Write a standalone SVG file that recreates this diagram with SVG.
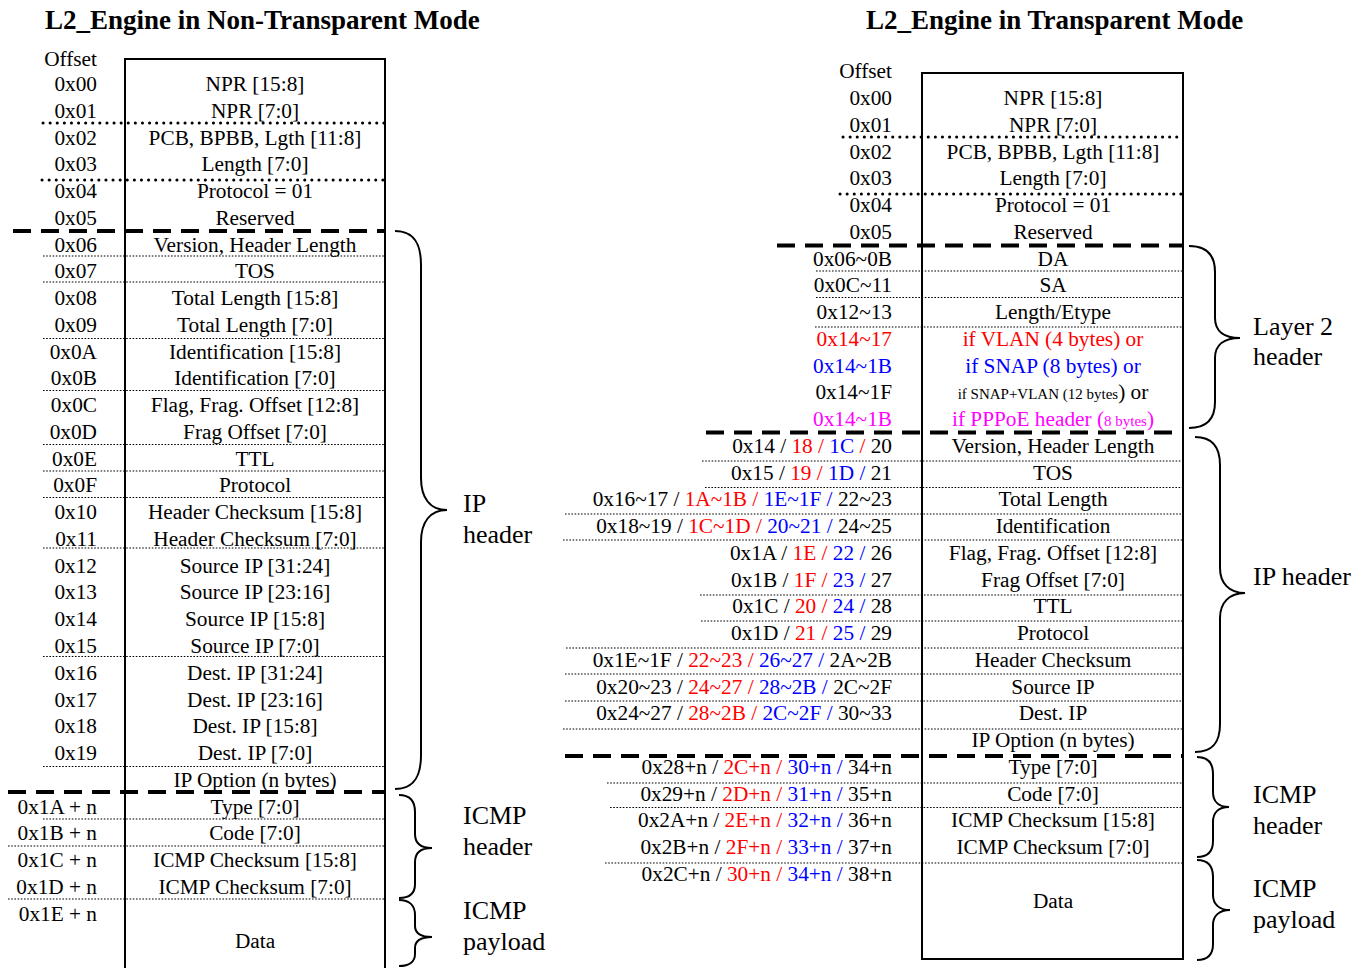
<svg xmlns="http://www.w3.org/2000/svg" width="1368" height="968" viewBox="0 0 1368 968">
<style>
text{font-family:"Liberation Serif","Times New Roman",serif;fill:#000}
.t{font-size:27px;font-weight:bold}
.o{font-size:21.3px;text-anchor:end}
.c{font-size:21.3px;text-anchor:middle}
.lb{font-size:26px}
.sm{font-size:15px}
.r{fill:#FF0000}
.b{fill:#0000FF}
.m{fill:#FF00FF}
.box{fill:none;stroke:#000;stroke-width:2}
.hd{stroke:#000;stroke-width:3;stroke-linecap:round;stroke-dasharray:0.1 7;fill:none}
.td{stroke:#000;stroke-width:1.2;stroke-dasharray:1.6 1.6;fill:none}
.da{stroke:#000;stroke-width:4;stroke-dasharray:18 10;fill:none}
.br{fill:none;stroke:#000;stroke-width:2}
</style>

<g id="left-panel">
<text class="t" x="45" y="29">L2_Engine in Non-Transparent Mode</text>
<path id="left-box" class="box" d="M125,970 V59 H385 V970"/>
<text class="o" x="97" y="66">Offset</text>
<g id="L00"><text class="o" x="97" y="91">0x00</text><text class="c" x="255" y="91">NPR [15:8]</text></g>
<g id="L01"><text class="o" x="97" y="117.8">0x01</text><text class="c" x="255" y="117.8">NPR [7:0]</text></g>
<g id="L02"><text class="o" x="97" y="144.5">0x02</text><text class="c" x="255" y="144.5">PCB, BPBB, Lgth [11:8]</text></g>
<g id="L03"><text class="o" x="97" y="171.3">0x03</text><text class="c" x="255" y="171.3">Length [7:0]</text></g>
<g id="L04"><text class="o" x="97" y="198">0x04</text><text class="c" x="255" y="198">Protocol = 01</text></g>
<g id="L05"><text class="o" x="97" y="224.8">0x05</text><text class="c" x="255" y="224.8">Reserved</text></g>
<g id="L06"><text class="o" x="97" y="251.6">0x06</text><text class="c" x="255" y="251.6">Version, Header Length</text></g>
<g id="L07"><text class="o" x="97" y="278.3">0x07</text><text class="c" x="255" y="278.3">TOS</text></g>
<g id="L08"><text class="o" x="97" y="305.1">0x08</text><text class="c" x="255" y="305.1">Total Length [15:8]</text></g>
<g id="L09"><text class="o" x="97" y="331.8">0x09</text><text class="c" x="255" y="331.8">Total Length [7:0]</text></g>
<g id="L0A"><text class="o" x="97" y="358.6">0x0A</text><text class="c" x="255" y="358.6">Identification [15:8]</text></g>
<g id="L0B"><text class="o" x="97" y="385.4">0x0B</text><text class="c" x="255" y="385.4">Identification [7:0]</text></g>
<g id="L0C"><text class="o" x="97" y="412.1">0x0C</text><text class="c" x="255" y="412.1">Flag, Frag. Offset [12:8]</text></g>
<g id="L0D"><text class="o" x="97" y="438.9">0x0D</text><text class="c" x="255" y="438.9">Frag Offset [7:0]</text></g>
<g id="L0E"><text class="o" x="97" y="465.6">0x0E</text><text class="c" x="255" y="465.6">TTL</text></g>
<g id="L0F"><text class="o" x="97" y="492.4">0x0F</text><text class="c" x="255" y="492.4">Protocol</text></g>
<g id="L10"><text class="o" x="97" y="519.2">0x10</text><text class="c" x="255" y="519.2">Header Checksum [15:8]</text></g>
<g id="L11"><text class="o" x="97" y="545.9">0x11</text><text class="c" x="255" y="545.9">Header Checksum [7:0]</text></g>
<g id="L12"><text class="o" x="97" y="572.7">0x12</text><text class="c" x="255" y="572.7">Source IP [31:24]</text></g>
<g id="L13"><text class="o" x="97" y="599.4">0x13</text><text class="c" x="255" y="599.4">Source IP [23:16]</text></g>
<g id="L14"><text class="o" x="97" y="626.2">0x14</text><text class="c" x="255" y="626.2">Source IP [15:8]</text></g>
<g id="L15"><text class="o" x="97" y="653">0x15</text><text class="c" x="255" y="653">Source IP [7:0]</text></g>
<g id="L16"><text class="o" x="97" y="679.7">0x16</text><text class="c" x="255" y="679.7">Dest. IP [31:24]</text></g>
<g id="L17"><text class="o" x="97" y="706.5">0x17</text><text class="c" x="255" y="706.5">Dest. IP [23:16]</text></g>
<g id="L18"><text class="o" x="97" y="733.2">0x18</text><text class="c" x="255" y="733.2">Dest. IP [15:8]</text></g>
<g id="L19"><text class="o" x="97" y="760">0x19</text><text class="c" x="255" y="760">Dest. IP [7:0]</text></g>
<g id="LIPO"><text class="c" x="255" y="786.8">IP Option (n bytes)</text></g>
<g id="L1A"><text class="o" x="97" y="813.5">0x1A + n</text><text class="c" x="255" y="813.5">Type [7:0]</text></g>
<g id="L1B"><text class="o" x="97" y="840.3">0x1B + n</text><text class="c" x="255" y="840.3">Code [7:0]</text></g>
<g id="L1C"><text class="o" x="97" y="867">0x1C + n</text><text class="c" x="255" y="867">ICMP Checksum [15:8]</text></g>
<g id="L1D"><text class="o" x="97" y="893.8">0x1D + n</text><text class="c" x="255" y="893.8">ICMP Checksum [7:0]</text></g>
<g id="L1E"><text class="o" x="97" y="920.6">0x1E + n</text><text class="c" x="255" y="948">Data</text></g>
<g id="L-labels">
<text class="lb" x="463" y="512">IP</text><text class="lb" x="463" y="543">header</text>
<text class="lb" x="463" y="824">ICMP</text><text class="lb" x="463" y="855">header</text>
<text class="lb" x="463" y="919">ICMP</text><text class="lb" x="463" y="950">payload</text>
</g>
</g>

<g id="right-panel">
<text class="t" x="866" y="29">L2_Engine in Transparent Mode</text>
<rect id="right-box" class="box" x="922" y="73" width="261" height="886"/>
<text class="o" x="892" y="78">Offset</text>
<g id="R00"><text class="o" x="892" y="105">0x00</text><text class="c" x="1053" y="105">NPR [15:8]</text></g>
<g id="R01"><text class="o" x="892" y="131.8">0x01</text><text class="c" x="1053" y="131.8">NPR [7:0]</text></g>
<g id="R02"><text class="o" x="892" y="158.5">0x02</text><text class="c" x="1053" y="158.5">PCB, BPBB, Lgth [11:8]</text></g>
<g id="R03"><text class="o" x="892" y="185.3">0x03</text><text class="c" x="1053" y="185.3">Length [7:0]</text></g>
<g id="R04"><text class="o" x="892" y="212">0x04</text><text class="c" x="1053" y="212">Protocol = 01</text></g>
<g id="R05"><text class="o" x="892" y="238.8">0x05</text><text class="c" x="1053" y="238.8">Reserved</text></g>
<g id="R06"><text class="o" x="892" y="265.5">0x06~0B</text><text class="c" x="1053" y="265.5">DA</text></g>
<g id="R07"><text class="o" x="892" y="292.3">0x0C~11</text><text class="c" x="1053" y="292.3">SA</text></g>
<g id="R08"><text class="o" x="892" y="319">0x12~13</text><text class="c" x="1053" y="319">Length/Etype</text></g>
<g id="R09"><text class="o r" x="892" y="345.8">0x14~17</text><text class="c r" x="1053" y="345.8">if VLAN (4 bytes) or</text></g>
<g id="R10"><text class="o b" x="892" y="372.5">0x14~1B</text><text class="c b" x="1053" y="372.5">if SNAP (8 bytes) or</text></g>
<g id="R11"><text class="o" x="892" y="399.3">0x14~1F</text><text class="c" x="1053" y="399.3"><tspan class="sm">if SNAP+VLAN (12 bytes</tspan>) or</text></g>
<g id="R12"><text class="o m" x="892" y="426">0x14~1B</text><text class="c m" x="1053" y="426">if PPPoE header (<tspan class="sm">8 bytes</tspan>)</text></g>
<g id="R13"><text class="o" x="892" y="452.8">0x14 / <tspan class="r">18 / </tspan><tspan class="b">1C </tspan><tspan class="r">/ </tspan>20</text><text class="c" x="1053" y="452.8">Version, Header Length</text></g>
<g id="R14"><text class="o" x="892" y="479.5">0x15 / <tspan class="r">19 / </tspan><tspan class="b">1D / </tspan>21</text><text class="c" x="1053" y="479.5">TOS</text></g>
<g id="R15"><text class="o" x="892" y="506.3">0x16~17 / <tspan class="r">1A~1B / </tspan><tspan class="b">1E~1F / </tspan>22~23</text><text class="c" x="1053" y="506.3">Total Length</text></g>
<g id="R16"><text class="o" x="892" y="533">0x18~19 / <tspan class="r">1C~1D / </tspan><tspan class="b">20~21 / </tspan>24~25</text><text class="c" x="1053" y="533">Identification</text></g>
<g id="R17"><text class="o" x="892" y="559.8">0x1A / <tspan class="r">1E / </tspan><tspan class="b">22 / </tspan>26</text><text class="c" x="1053" y="559.8">Flag, Frag. Offset [12:8]</text></g>
<g id="R18"><text class="o" x="892" y="586.5">0x1B / <tspan class="r">1F / </tspan><tspan class="b">23 / </tspan>27</text><text class="c" x="1053" y="586.5">Frag Offset [7:0]</text></g>
<g id="R19"><text class="o" x="892" y="613.3">0x1C / <tspan class="r">20 / </tspan><tspan class="b">24 / </tspan>28</text><text class="c" x="1053" y="613.3">TTL</text></g>
<g id="R20"><text class="o" x="892" y="640">0x1D / <tspan class="r">21 / </tspan><tspan class="b">25 / </tspan>29</text><text class="c" x="1053" y="640">Protocol</text></g>
<g id="R21"><text class="o" x="892" y="666.8">0x1E~1F / <tspan class="r">22~23 / </tspan><tspan class="b">26~27 / </tspan>2A~2B</text><text class="c" x="1053" y="666.8">Header Checksum</text></g>
<g id="R22"><text class="o" x="892" y="693.5">0x20~23 / <tspan class="r">24~27 / </tspan><tspan class="b">28~2B / </tspan>2C~2F</text><text class="c" x="1053" y="693.5">Source IP</text></g>
<g id="R23"><text class="o" x="892" y="720.3">0x24~27 / <tspan class="r">28~2B / </tspan><tspan class="b">2C~2F / </tspan>30~33</text><text class="c" x="1053" y="720.3">Dest. IP</text></g>
<g id="R24"><text class="c" x="1053" y="747">IP Option (n bytes)</text></g>
<g id="R25"><text class="o" x="892" y="773.8">0x28+n / <tspan class="r">2C+n / </tspan><tspan class="b">30+n / </tspan>34+n</text><text class="c" x="1053" y="773.8">Type [7:0]</text></g>
<g id="R26"><text class="o" x="892" y="800.5">0x29+n / <tspan class="r">2D+n / </tspan><tspan class="b">31+n / </tspan>35+n</text><text class="c" x="1053" y="800.5">Code [7:0]</text></g>
<g id="R27"><text class="o" x="892" y="827.3">0x2A+n / <tspan class="r">2E+n / </tspan><tspan class="b">32+n / </tspan>36+n</text><text class="c" x="1053" y="827.3">ICMP Checksum [15:8]</text></g>
<g id="R28"><text class="o" x="892" y="854">0x2B+n / <tspan class="r">2F+n / </tspan><tspan class="b">33+n / </tspan>37+n</text><text class="c" x="1053" y="854">ICMP Checksum [7:0]</text></g>
<g id="R29"><text class="o" x="892" y="880.8">0x2C+n / <tspan class="r">30+n / </tspan><tspan class="b">34+n / </tspan>38+n</text><text class="c" x="1053" y="908">Data</text></g>
<g id="R-labels">
<text class="lb" x="1253" y="335">Layer 2</text><text class="lb" x="1253" y="365">header</text>
<text class="lb" x="1253" y="585">IP header</text>
<text class="lb" x="1253" y="803">ICMP</text><text class="lb" x="1253" y="834">header</text>
<text class="lb" x="1253" y="897">ICMP</text><text class="lb" x="1253" y="928">payload</text>
</g>
</g>

<g id="connectors">
<g id="left-separators">
<line class="hd" x1="43" y1="123" x2="385" y2="123"/>
<line class="hd" x1="42" y1="180" x2="385" y2="180"/>
<line class="da" x1="13" y1="231" x2="385" y2="231"/>
<line class="td" x1="43" y1="256" x2="385" y2="256"/>
<line class="td" x1="43" y1="282" x2="385" y2="282"/>
<line class="td" x1="43" y1="338.5" x2="385" y2="338.5"/>
<line class="td" x1="43" y1="390.5" x2="385" y2="390.5"/>
<line class="td" x1="43" y1="444.5" x2="385" y2="444.5"/>
<line class="td" x1="43" y1="471" x2="385" y2="471"/>
<line class="td" x1="43" y1="497.5" x2="385" y2="497.5"/>
<line class="td" x1="43" y1="548" x2="385" y2="548"/>
<line class="td" x1="43" y1="656.5" x2="385" y2="656.5"/>
<line class="td" x1="43" y1="766.5" x2="385" y2="766.5"/>
<line class="da" x1="8" y1="792" x2="385" y2="792"/>
<line class="td" x1="43" y1="819" x2="385" y2="819"/>
<line class="td" x1="8" y1="846" x2="385" y2="846"/>
<line class="td" x1="8" y1="899" x2="385" y2="899"/>
</g>
<g id="right-separators">
<line class="hd" x1="843" y1="137" x2="1183" y2="137"/>
<line class="hd" x1="840" y1="194" x2="1183" y2="194"/>
<line class="da" x1="777" y1="245.5" x2="1183" y2="245.5"/>
<line class="td" x1="816" y1="271" x2="1183" y2="271"/>
<line class="td" x1="816" y1="297.5" x2="1183" y2="297.5"/>
<line class="td" x1="815" y1="327" x2="1183" y2="327"/>
<line class="da" x1="706" y1="432.5" x2="1183" y2="432.5"/>
<line class="td" x1="702" y1="461" x2="1183" y2="461"/>
<line class="td" x1="705" y1="487.5" x2="1183" y2="487.5"/>
<line class="td" x1="565" y1="514" x2="1183" y2="514"/>
<line class="td" x1="563" y1="540" x2="1183" y2="540"/>
<line class="td" x1="700" y1="595" x2="1183" y2="595"/>
<line class="td" x1="701" y1="621" x2="1183" y2="621"/>
<line class="td" x1="566" y1="648" x2="1183" y2="648"/>
<line class="td" x1="565" y1="674" x2="1183" y2="674"/>
<line class="td" x1="565" y1="701" x2="1183" y2="701"/>
<line class="td" x1="563" y1="729" x2="1183" y2="729"/>
<line class="da" x1="565" y1="756" x2="1183" y2="756"/>
<line class="td" x1="607" y1="783" x2="1183" y2="783"/>
<line class="td" x1="610" y1="807.5" x2="1183" y2="807.5"/>
<line class="td" x1="605" y1="863" x2="1183" y2="863"/>
</g>
<g id="braces">
<path class="br" d="M395,231 C415,231 421,245 421,265 L421,478 C421,498 430,510 447,510 C430,510 421,522 421,542 L421,755 C421,775 415,789 395,789"/>
<path class="br" d="M399,795 C410,795 415,801 415,812 L415,834 C415,843 421,848 432,848 C421,848 415,853 415,862 L415,884 C415,893 410,898 399,898"/>
<path class="br" d="M399,900 C410,900 415,906 415,915 L415,926 C415,933 421,937 432,937 C421,937 415,941 415,948 L415,954 C415,961 410,966 399,966"/>
<path class="br" d="M1189,246 C1208,246 1215,256 1215,272 L1215,318 C1215,331 1224,338 1240,338 C1224,338 1215,345 1215,358 L1215,402 C1215,418 1208,428 1189,428"/>
<path class="br" d="M1195,437 C1214,437 1220,449 1220,465 L1220,568 C1220,583 1229,593 1245,593 C1229,593 1220,603 1220,618 L1220,724 C1220,741 1214,752 1195,752"/>
<path class="br" d="M1197,757 C1208,757 1213,763 1213,774 L1213,792 C1213,801 1218,807 1229,807 C1218,807 1213,813 1213,822 L1213,841 C1213,851 1208,857 1197,857"/>
<path class="br" d="M1197,860 C1208,860 1213,866 1213,877 L1213,895 C1213,904 1219,910 1230,910 C1219,910 1213,916 1213,925 L1213,944 C1213,954 1208,960 1197,960"/>
</g>
</g>
</svg>
